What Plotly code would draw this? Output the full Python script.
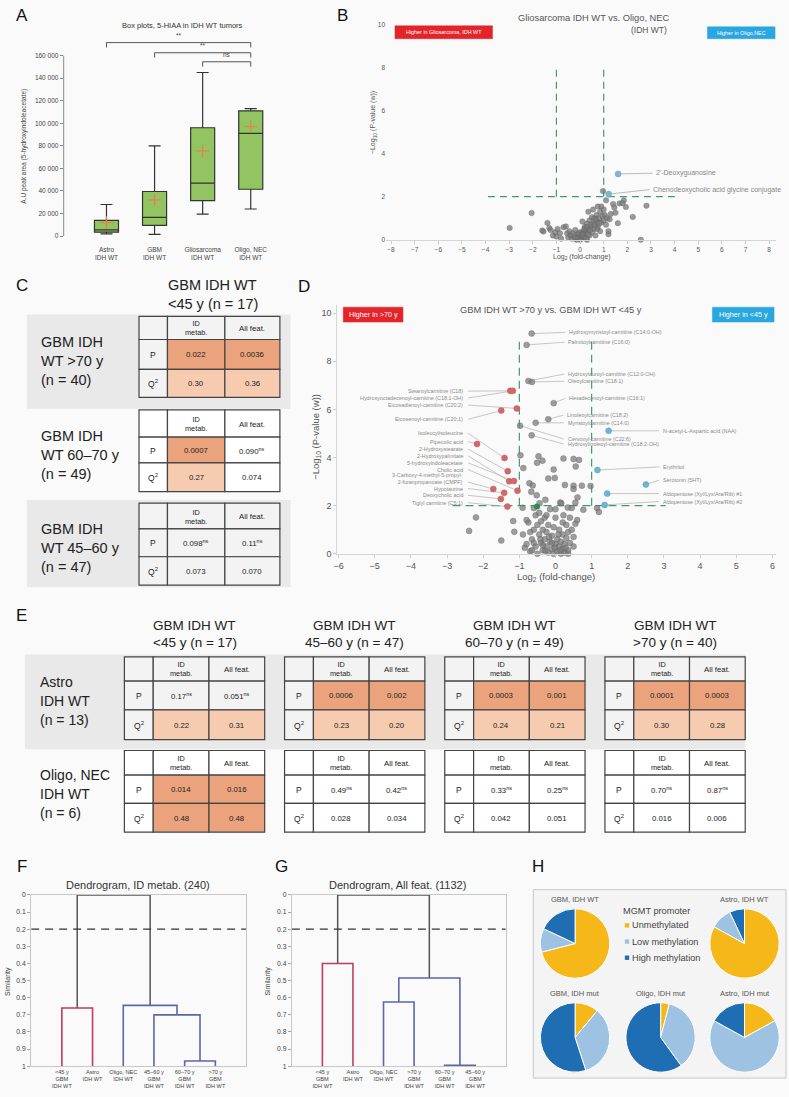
import plotly.graph_objects as go

W, H = 789, 1097
FONT = "Liberation Sans, Arial, Helvetica, sans-serif"

# ======================= DATA =======================
# Panel A: box plots of 5-HIAA
a_groups = ["Astro<br>IDH WT", "GBM<br>IDH WT", "Gliosarcoma<br>IDH WT", "Oligo, NEC<br>IDH WT"]
a_min = [2000, 1500, 19500, 24000]
a_q1 = [3500, 9500, 31500, 41500]
a_median = [5500, 16500, 47000, 91000]
a_q3 = [14000, 39500, 96000, 111000]
a_max = [28000, 80000, 145000, 113000]
a_mean = [12000, 32000, 75500, 97000]
a_yticks = [0, 20000, 40000, 60000, 80000, 100000, 120000, 140000, 160000]
a_pairs = [(0, 3), (1, 3), (2, 3)]
a_pair_labels = ["**", "**", "ns"]
a_pair_levels = [171500, 162500, 154500]

# Panel B: volcano Gliosarcoma vs Oligo
b_grey = [(-2.98, 0.55), (-2.05, 1.24), (-1.38, 0.78), (-1.6, 0.43), (-1.55, 0.38), (-1.3, 0.55),
          (-1.25, 0.45), (-1.15, 0.2), (-1.05, 0.35), (-1.0, 0.15), (-0.95, 0.5), (-0.85, 0.3),
          (-0.8, 0.05), (-0.7, 0.58), (-0.6, 0.62), (-0.55, 0.3), (-0.5, 0.1), (-0.45, 0.4),
          (-0.4, 0.2), (-0.35, 0.05), (-0.3, 0.3), (-0.25, 0.15), (-0.2, 0.45), (-0.15, 0.0),
          (-0.1, 0.25), (-0.05, 0.1), (0.0, 0.35), (0.05, 0.05), (0.1, 0.2), (0.1, 0.85),
          (0.15, 0.4), (0.2, 0.1), (0.2, 0.6), (0.25, 0.3), (0.3, 0.75), (0.3, 0.0), (0.35, 0.5),
          (0.35, 1.3), (0.4, 0.2), (0.4, 0.9), (0.45, 0.6), (0.5, 0.35), (0.5, 1.05), (0.55, 1.4),
          (0.55, 0.75), (0.6, 0.5), (0.6, 1.0), (0.65, 0.2), (0.7, 0.85), (0.7, 1.15), (0.75, 1.55),
          (0.75, 0.6), (0.8, 1.0), (0.85, 1.3), (0.85, 0.4), (0.9, 0.8), (0.9, 1.55), (0.95, 1.1),
          (0.97, 2.26), (1.0, 0.9), (1.0, 1.4), (1.05, 1.15), (1.1, 1.83), (1.1, 0.7), (1.15, 1.0),
          (1.2, 0.4), (1.2, 0.25), (1.25, 0.95), (1.3, 1.2), (1.4, 1.66), (1.45, 1.5), (1.5, 1.25),
          (1.6, 0.77), (1.67, 1.69), (1.85, 1.83), (1.94, 1.52), (1.8, 1.7), (2.23, 1.06), (2.57, 0.0),
          (2.81, 1.58), (-0.2, 0.05), (-0.1, 0.1), (0.0, 0.0), (0.05, 0.2), (0.15, 0.15), (0.25, 0.05),
          (-0.05, 0.3), (0.12, 0.3), (0.22, 0.45), (0.18, 0.5), (0.28, 0.6), (0.35, 0.25), (0.42, 0.45),
          (0.48, 0.7), (0.62, 0.7), (0.68, 0.95), (0.8, 0.75), (0.72, 0.5)]
b_hit_names = ["2′-Deoxyguanosine", "Chenodeoxycholic acid glycine conjugate"]
b_hit_x = [1.61, 1.21]
b_hit_y = [3.06, 2.12]
b_label_x = [3.12, 3.0]
b_label_y = [3.09, 2.33]

# Panel D: volcano GBM >70 y vs <45 y
d_grey = [(-0.97, 4.09), (-0.47, 4.05), (-0.51, 3.78), (-0.36, 3.87), (0.22, 3.96), (0.50, 3.94),
          (0.65, 3.90), (0.56, 3.63), (-0.89, 3.56), (-0.05, 3.50), (-0.20, 3.13), (-0.02, 3.15),
          (-0.72, 2.93), (-0.63, 2.84), (-0.67, 2.58), (0.26, 2.86), (0.50, 2.83), (0.73, 2.83),
          (0.97, 2.82), (0.50, 2.69), (-0.52, 2.43), (-0.28, 2.24), (0.61, 2.34), (0.55, 2.12),
          (0.13, 2.13), (0.16, 2.10), (-0.44, 2.10), (-0.91, 1.91), (0.34, 1.92), (0.77, 1.83),
          (1.15, 1.90), (1.20, 1.74), (-2.20, 1.51), (-1.17, 1.36), (-2.39, 0.95), (-1.14, 0.91),
          (-1.50, 0.55), (-0.9, 0.8), (-0.85, 0.25), (-0.8, 0.4), (-0.75, 1.3), (-0.7, 0.1),
          (-0.65, 0.6), (-0.6, 1.0), (-0.55, 1.6), (-0.55, 0.3), (-0.5, 1.2), (-0.5, 0.0),
          (-0.45, 0.8), (-0.45, 1.7), (-0.4, 0.45), (-0.4, 1.35), (-0.35, 0.15), (-0.35, 1.0),
          (-0.3, 0.6), (-0.3, 1.5), (-0.25, 0.3), (-0.25, 0.9), (-0.2, 0.05), (-0.2, 1.2),
          (-0.15, 0.5), (-0.15, 1.85), (-0.1, 0.2), (-0.1, 0.75), (-0.05, 0.0), (-0.05, 1.1),
          (0.0, 0.4), (0.0, 1.5), (0.05, 0.1), (0.05, 0.6), (0.1, 0.3), (0.1, 1.0), (0.15, 0.0),
          (0.15, 0.5), (0.2, 0.2), (0.2, 0.8), (0.2, 1.3), (0.25, 0.05), (0.25, 0.4), (0.3, 0.65),
          (0.3, 1.2), (0.35, 0.15), (0.35, 0.9), (0.4, 1.5), (0.4, 0.45), (0.45, 1.0), (0.5, 0.3),
          (0.5, 0.7), (0.55, 1.25), (0.6, 1.4), (-0.6, 0.45), (-0.7, 0.9), (-0.8, 1.4), (-0.35, 0.35),
          (-0.1, 0.45), (0.08, 0.8), (-0.28, 0.12), (0.12, 0.15), (-0.18, 0.7), (0.28, 0.25),
          (-0.02, 0.25), (-0.42, 0.6), (0.22, 1.6), (-0.6, 1.9), (0.45, 1.9), (0.0, 1.85),
          (-0.25, 1.6), (0.35, 0.0), (-0.65, 0.15)]
d_green = [(-0.51, 1.96)]
d_left_names = ["Stearoylcarnitine (C18)", "Hydroxyoctadecenoyl-carnitine (C18:1-OH)",
                "Eicosadienoyl-carnitine (C20:2)", "Eicosenoyl-carnitine (C20:1)", "Isoleucylisoleucine",
                "Pipecolic acid", "2-Hydroxystearate", "2-Hydroxypalmitate", "5-hydroxyindoleacetate",
                "Cholic acid", "3-Carboxy-4-methyl-5-propyl-<br>2-furanpropanoate (CMPF)", "Hypotaurine",
                "Deoxycholic acid", "Tiglyl carnitine (C5:1)"]
d_left_x = [-1.25, -1.18, -1.07, -1.50, -1.41, -2.17, -1.32, -1.28, -1.15, -1.05, -1.72, -1.42, -1.51, -1.33]
d_left_y = [6.77, 6.77, 6.04, 5.95, 3.98, 4.56, 3.43, 3.01, 3.02, 2.62, 2.69, 2.53, 2.28, 1.96]
d_left_label_y = [6.76, 6.47, 6.18, 5.59, 5.01, 4.66, 4.35, 4.07, 3.78, 3.50, 3.12, 2.71, 2.43, 2.12]
d_right_names = ["Hydroxymyristoyl-carnitine (C14:0-OH)", "Palmitoylcarnitine (C16:0)",
                 "Hydroxylauroyl-carnitine (C12:0-OH)", "Oleoylcarnitine (C18:1)",
                 "Hexadecenoyl-carnitine (C16:1)", "Linoleoylcarnitine (C18:2)",
                 "Myristoylcarnitine (C14:0)", "Cervonyl-carnitine (C22:6)",
                 "Hydroxylinoleoyl-carnitine (C18:2-OH)"]
d_right_x = [-0.66, -0.80, -0.75, -0.65, -0.05, -0.20, -0.55, -0.98, -0.66]
d_right_y = [9.15, 8.68, 7.18, 7.14, 6.26, 5.59, 5.44, 5.32, 4.92]
d_right_label_x = [0.32, 0.30, 0.30, 0.30, 0.32, 0.27, 0.28, 0.28, 0.28]
d_right_label_y = [9.2, 8.79, 7.47, 7.17, 6.46, 5.76, 5.44, 4.77, 4.56]
d_blue_names = ["N-acetyl-L-Aspartic acid (NAA)", "Erythritol", "Serotonin (5HT)",
                "Aldopentose (Xyl/Lyx/Ara/Rib) #1", "Aldopentose (Xyl/Lyx/Ara/Rib) #2"]
d_blue_x = [1.47, 1.16, 2.50, 1.43, 1.36]
d_blue_y = [5.11, 3.48, 2.88, 2.50, 2.03]
d_blue_label_x = [2.91, 2.93, 2.91, 2.91, 2.91]
d_blue_label_y = [5.11, 3.61, 3.05, 2.50, 2.17]

# Panel C: model statistics vs GBM IDH WT <45 y
c_title = ["GBM IDH WT", "&lt;45 y (n = 17)"]
c_rows = [["GBM IDH", "WT &gt;70 y", "(n = 40)"],
          ["GBM IDH", "WT 60–70 y", "(n = 49)"],
          ["GBM IDH", "WT 45–60 y", "(n = 47)"]]
c_p = [["0.022", "0.0036"], ["0.0007", "0.090"], ["0.098", "0.11"]]
c_q = [["0.30", "0.36"], ["0.27", "0.074"], ["0.073", "0.070"]]

# Panel E
e_cols = ["&lt;45 y (n = 17)", "45–60 y (n = 47)", "60–70 y (n = 49)", "&gt;70 y (n = 40)"]
e_rows = [["Astro", "IDH WT", "(n = 13)"], ["Oligo, NEC", "IDH WT", "(n = 6)"]]
e_p = [[["0.17", "0.051"], ["0.0006", "0.002"], ["0.0003", "0.001"], ["0.0001", "0.0003"]],
       [["0.014", "0.016"], ["0.49", "0.42"], ["0.33", "0.25"], ["0.70", "0.87"]]]
e_q = [[["0.22", "0.31"], ["0.23", "0.20"], ["0.24", "0.21"], ["0.30", "0.28"]],
       [["0.48", "0.48"], ["0.028", "0.034"], ["0.042", "0.051"], ["0.016", "0.006"]]]
table_header = ["", "ID<br>metab.", "All feat."]

# Panels F, G: dendrograms (merges: left node, right node, similarity, cluster)
f_leaves = ["&lt;45 y<br>GBM<br>IDH WT", "Astro<br>IDH WT", "Oligo, NEC<br>IDH WT",
            "45–60 y<br>GBM<br>IDH WT", "60–70 y<br>GBM<br>IDH WT", "&gt;70 y<br>GBM<br>IDH WT"]
f_merges = [(0, 1, 0.66, "red"), (4, 5, 0.97, "blue"), (3, 7, 0.70, "blue"),
            (2, 8, 0.645, "blue"), (6, 9, 0.0, "top")]
g_leaves = ["&lt;45 y<br>GBM<br>IDH WT", "Astro<br>IDH WT", "Oligo, NEC<br>IDH WT",
            "&gt;70 y<br>GBM<br>IDH WT", "60–70 y<br>GBM<br>IDH WT", "45–60 y<br>GBM<br>IDH WT"]
g_merges = [(0, 1, 0.40, "red"), (4, 5, 0.995, "blue"), (2, 3, 0.625, "blue"),
            (8, 7, 0.485, "blue"), (6, 9, 0.0, "top")]
dendro_cut = 0.2
sim_ticks = [0, 0.1, 0.2, 0.3, 0.4, 0.5, 0.6, 0.7, 0.8, 0.9, 1]

# Panel H: MGMT promoter pies
mgmt_labels = ["Unmethylated", "Low methylation", "High methylation"]
h_titles = ["GBM, IDH WT", "Astro, IDH WT", "GBM, IDH mut", "Oligo, IDH mut", "Astro, IDH mut"]
h_values = [[71, 11, 18], [83, 10, 7], [11, 34, 55], [4, 36, 60], [17, 66, 17]]

# ======================= HELPERS =======================
def fx(p):
    return p / W


def fy(p):
    return 1 - p / H


def lin(pa, va, pb, vb, p):
    return va + (p - pa) * (vb - va) / (pb - pa)


def rng(pa, va, pb, vb, lo, hi):
    return [lin(pa, va, pb, vb, lo), lin(pa, va, pb, vb, hi)]


shapes, ann = [], []


def text(x, y, s, size, color="#333", xanchor="center", yanchor="middle", xref="paper",
         yref="paper", angle=0, align="center"):
    if xref == "paper":
        x = fx(x)
    if yref == "paper":
        y = fy(y)
    ann.append(dict(x=x, y=y, text=s, xref=xref, yref=yref, showarrow=False, xanchor=xanchor,
                    yanchor=yanchor, textangle=angle, align=align,
                    font=dict(size=size, color=color, family=FONT)))


def rect(x0, y0, x1, y1, fill, line="#444", lw=1.2, layer="above"):
    shapes.append(dict(type="rect", xref="paper", yref="paper", x0=fx(x0), x1=fx(x1),
                       y0=fy(y1), y1=fy(y0), fillcolor=fill, layer=layer,
                       line=dict(color=line, width=lw)))


fig = go.Figure()

# ======================= PANEL A =======================
fig.add_trace(go.Box(x=[0, 1, 2, 3], q1=a_q1, median=a_median, q3=a_q3, lowerfence=a_min,
                     upperfence=a_max, width=0.5, fillcolor="#93c462",
                     line=dict(color="#333", width=1.2), boxpoints=False,
                     xaxis="x", yaxis="y", hoverinfo="skip"))
fig.add_trace(go.Scatter(x=[0, 1, 2, 3], y=a_mean, mode="markers", xaxis="x", yaxis="y",
                         marker=dict(symbol="cross-thin", size=9, line=dict(color="#e8804a", width=1.2)),
                         cliponaxis=False))
shapes.append(dict(type="line", xref="paper", yref="y", x0=fx(60), x1=fx(60), y0=0, y1=160000,
                   line=dict(color="#888", width=1)))
for (i, j), lab, lev in zip(a_pairs, a_pair_labels, a_pair_levels):
    d = 4300
    shapes.append(dict(type="path", xref="x", yref="y",
                       path=f"M {i},{lev - d} L {i},{lev} L {j},{lev} L {j},{lev - d}",
                       line=dict(color="#555", width=1)))
    text((i + j) / 2, lev + 1200, lab, 6.5, "#444", yanchor="bottom", xref="x", yref="y")
text(179, 22, "Box plots, 5-HIAA in IDH WT tumors", 7.5, "#333")
text(20, 143, "A.U peak area (5-hydroxyindoleacetate)", 6.5, "#444", angle=-90)

# ======================= PANEL B =======================
fig.add_trace(go.Scatter(x=[-1, -1, None, 1, 1, None, -3.9, 4.1], y=[2, 8.1, None, 2, 8.1, None, 2, 2],
                         mode="lines", xaxis="x2", yaxis="y2",
                         line=dict(color="#3a9e6e", width=1.2, dash="7px,5px")))
bx, by = [], []
for px_, py_, lx, ly in zip(b_hit_x, b_hit_y, b_label_x, b_label_y):
    bx += [px_, lx - 0.05, None]
    by += [py_, ly, None]
fig.add_trace(go.Scatter(x=bx, y=by, mode="lines", xaxis="x2", yaxis="y2",
                         line=dict(color="#aaa", width=0.8)))
fig.add_trace(go.Scatter(x=[p[0] for p in b_grey], y=[p[1] for p in b_grey], mode="markers",
                         xaxis="x2", yaxis="y2", cliponaxis=False,
                         marker=dict(size=5.5, color="rgba(120,120,120,0.75)",
                                     line=dict(color="rgba(90,90,90,0.6)", width=0.5))))
fig.add_trace(go.Scatter(x=b_hit_x, y=b_hit_y, mode="markers", xaxis="x2", yaxis="y2",
                         marker=dict(size=6, color="#7fb6cc", line=dict(color="#6aa0b8", width=0.5))))
for n, lx, ly in zip(b_hit_names, b_label_x, b_label_y):
    text(lx, ly, n, 7, "#888", xanchor="left", xref="x2", yref="y2")
text(593, 14, "Gliosarcoma IDH WT vs. Oligo, NEC", 9.3, "#555")
text(668, 26, "(IDH WT)", 8.5, "#555", xanchor="right")
rect(393, 22, 491, 35, "#e3242b", line="#e3242b", lw=0.5)
text(442, 28.5, "Higher in Gliosarcoma, IDH WT", 5.4, "white")
rect(707, 23, 775, 35, "#2aa7df", line="#2aa7df", lw=0.5)
text(741, 29, "Higher in Oligo,NEC", 5.4, "white")
text(580.7, 255.5, "Log<sub>2</sub> (fold-change)", 7, "#555")
text(371, 120, "−Log<sub>10</sub> (P-value (w))", 7, "#555", angle=-90)

# ======================= PANEL D =======================
fig.add_trace(go.Scatter(x=[-1, -1, None, 1, 1, None, -2.85, 3.05], y=[2, 9.0, None, 2, 9.0, None, 2, 2],
                         mode="lines", xaxis="x3", yaxis="y3",
                         line=dict(color="#3a9e6e", width=1.2, dash="8px,5px")))
cx, cy = [], []
for n, px_, py_, ly in zip(d_left_names, d_left_x, d_left_y, d_left_label_y):
    yy = ly - 0.14 if "<br>" in n else ly
    cx += [-2.42, px_, None]
    cy += [yy, py_, None]
for px_, py_, lx, ly in zip(d_right_x + d_blue_x, d_right_y + d_blue_y,
                            d_right_label_x + d_blue_label_x, d_right_label_y + d_blue_label_y):
    cx += [px_, lx - 0.05, None]
    cy += [py_, ly, None]
fig.add_trace(go.Scatter(x=cx, y=cy, mode="lines", xaxis="x3", yaxis="y3",
                         line=dict(color="#b0b0b0", width=0.7)))
fig.add_trace(go.Scatter(x=[p[0] for p in d_grey] + d_right_x, y=[p[1] for p in d_grey] + d_right_y,
                         mode="markers", xaxis="x3", yaxis="y3", cliponaxis=False,
                         marker=dict(size=6, color="rgba(120,120,120,0.72)",
                                     line=dict(color="rgba(90,90,90,0.6)", width=0.5))))
fig.add_trace(go.Scatter(x=d_left_x, y=d_left_y, mode="markers", xaxis="x3", yaxis="y3",
                         marker=dict(size=6, color="#d06a6a", line=dict(color="#c05a5a", width=0.5))))
fig.add_trace(go.Scatter(x=d_blue_x, y=d_blue_y, mode="markers", xaxis="x3", yaxis="y3",
                         marker=dict(size=6, color="#6fb3d6", line=dict(color="#5aa0c4", width=0.5))))
fig.add_trace(go.Scatter(x=[p[0] for p in d_green], y=[p[1] for p in d_green], mode="markers",
                         xaxis="x3", yaxis="y3", marker=dict(size=6, color="#2e8b57")))
for n, ly in zip(d_left_names, d_left_label_y):
    text(-2.49, ly, n, 5.4, "#8a8a8a", xanchor="right", xref="x3", yref="y3", align="right")
for n, lx, ly in zip(d_right_names + d_blue_names, d_right_label_x + d_blue_label_x,
                     d_right_label_y + d_blue_label_y):
    text(lx, ly, n, 5.4, "#8a8a8a", xanchor="left", xref="x3", yref="y3")
text(549.7, 309, "GBM IDH WT &gt;70 y vs. GBM IDH WT &lt;45 y", 9.3, "#555")
rect(341, 305.7, 401, 320.7, "#e3242b", line="#e3242b", lw=0.5)
text(371, 313.2, "Higher in &gt;70 y", 7.2, "white")
rect(712, 305.7, 774, 320.7, "#2aa7df", line="#2aa7df", lw=0.5)
text(743, 313.2, "Higher in &lt;45 y", 7.2, "white")
text(555, 578, "Log<sub>2</sub> (fold-change)", 9.5, "#555")
text(314, 436, "−Log<sub>10</sub> (P-value (w))", 9.5, "#555", angle=-90)

# ======================= TABLES (C, E) =======================
DARK, LIGHT = "#eaa37d", "#f6cbb0"


def p_fill(s):
    return DARK if float(s) < 0.05 else None


def q_fill(s):
    v = float(s)
    return DARK if v >= 0.4 else (LIGHT if v >= 0.2 else None)


def fmt_p(s):
    return s + "<sup>ns</sup>" if float(s) >= 0.05 else s


def draw_table(x0, widths, rows_y, pv, qv, banded):
    xs = [x0]
    for w in widths:
        xs.append(xs[-1] + w)
    base = "#f3f3f3" if banded else "#ffffff"
    fills = [[base, base, base],
             [base, p_fill(pv[0]) or base, p_fill(pv[1]) or base],
             [base, q_fill(qv[0]) or base, q_fill(qv[1]) or base]]
    texts = [table_header,
             ["P", fmt_p(pv[0]), fmt_p(pv[1])],
             ["Q<sup>2</sup>", qv[0], qv[1]]]
    for r in range(3):
        for c in range(3):
            rect(xs[c], rows_y[r], xs[c + 1], rows_y[r + 1], fills[r][c])
            if texts[r][c]:
                size = 8.5 if c == 0 else (7.3 if r == 0 and c == 1 else 7.8)
                text((xs[c] + xs[c + 1]) / 2, (rows_y[r] + rows_y[r + 1]) / 2 + 0.5,
                     texts[r][c], size, "#222")


# Panel C
c_table_rows = [[315, 338.3, 368.3, 396.7], [409.3, 436.7, 462.7, 491.7], [503.3, 529.3, 557.3, 586]]
c_bands = [True, False, True]
rect(23, 313, 288, 408, "#e9e9e9", line="#e9e9e9", lw=0, layer="below")
rect(23, 500, 288, 588, "#e9e9e9", line="#e9e9e9", lw=0, layer="below")
text(210, 283, c_title[0], 14.5, "#222")
text(210, 302, c_title[1], 14.5, "#222")
for k in range(3):
    ry = c_table_rows[k]
    draw_table(135.7, [28.6, 57.7, 55.3], ry, c_p[k], c_q[k], c_bands[k])
    mid = (ry[0] + ry[3]) / 2
    for line_txt, off in zip(c_rows[k], [-15, 4, 23]):
        text(35, mid + off, line_txt, 14.5, "#222", xanchor="left")

# Panel E
e_x0 = [121, 282, 443, 604]
e_table_rows = [[658.3, 682.7, 711.7, 741.7], [752.7, 777.5, 806, 835]]
rect(21, 656, 745, 751.5, "#e9e9e9", line="#e9e9e9", lw=0, layer="below")
for j in range(4):
    cxm = e_x0[j] + 70.5
    text(cxm, 627, "GBM IDH WT", 13.5, "#222")
    text(cxm, 644, e_cols[j], 13.5, "#222")
for i in range(2):
    ry = e_table_rows[i]
    for j in range(4):
        draw_table(e_x0[j], [29, 56, 56], ry, e_p[i][j], e_q[i][j], i == 0)
    mid = (ry[0] + ry[3]) / 2
    for line_txt, off in zip(e_rows[i], [-16, 3, 22]):
        text(34, mid + off, line_txt, 14, "#222", xanchor="left")

# ======================= DENDROGRAMS (F, G) =======================
DCOL = {"red": "#c23b5c", "blue": "#5b67a8", "top": "#555555"}


def dendro(merges, xa, ya):
    pos = {i: (float(i), 1.0) for i in range(6)}
    segs = {"red": ([], []), "blue": ([], []), "top": ([], [])}
    nid = 6
    for l, r, h, grp in merges:
        xl, hl = pos[l]
        xr, hr = pos[r]
        sx, sy = segs[grp]
        sx += [xl, xl, xr, xr, None]
        sy += [hl, h, h, hr, None]
        pos[nid] = ((xl + xr) / 2, h)
        nid += 1
    for grp in ["top", "red", "blue"]:
        sx, sy = segs[grp]
        fig.add_trace(go.Scatter(x=sx, y=sy, mode="lines", xaxis=xa, yaxis=ya,
                                 line=dict(color=DCOL[grp], width=1.6 if grp != "top" else 1.5)))
    fig.add_trace(go.Scatter(x=[-1, 6], y=[dendro_cut, dendro_cut], mode="lines", xaxis=xa, yaxis=ya,
                             line=dict(color="#333", width=1.2, dash="8px,6px")))


dendro(f_merges, "x4", "y4")
dendro(g_merges, "x5", "y5")
text(135, 888, "Dendrogram, ID metab. (240)", 11, "#333")
text(396, 888, "Dendrogram, All feat. (1132)", 11, "#333")
text(4, 985, "Similarity", 7, "#444", angle=-90)
text(265, 985, "Similarity", 7, "#444", angle=-90)

# ======================= PIES (H) =======================
MGMT_COL = ["#f5b818", "#9ec3e2", "#1f6db3"]
h_centers = [(574, 947.3), (744.3, 947.3), (574, 1042), (660, 1042), (744.3, 1042)]
R = 35
rect(532, 893, 786, 1083, "#f4f4f4", line="#c8c8c8", lw=1, layer="below")
for t, vals, (pcx, pcy) in zip(h_titles, h_values, h_centers):
    fig.add_trace(go.Pie(values=vals, labels=mgmt_labels, sort=False, direction="clockwise",
                         rotation=0, textinfo="none", hoverinfo="label+percent",
                         marker=dict(colors=MGMT_COL, line=dict(color="white", width=1)),
                         domain=dict(x=[fx(pcx - R), fx(pcx + R)], y=[fy(pcy + R), fy(pcy - R)])))
    text(pcx, pcy - R - 9.5, t, 7.5, "#555")
text(620.5, 914, "MGMT promoter", 9.2, "#444", xanchor="left")
for k, (lab, col) in enumerate(zip(mgmt_labels, MGMT_COL)):
    yy = 929 + k * 16.3
    rect(624, yy - 2.2, 628.4, yy + 2.2, col, line=col, lw=0)
    text(629.5, yy, lab, 9.2, "#444", xanchor="left")

# ======================= PANEL LETTERS =======================
for L, lx, ly in [("A", 18, 12), ("B", 340, 12), ("C", 18, 284), ("D", 302, 285),
                  ("E", 18, 617), ("F", 18, 870), ("G", 279, 870), ("H", 537, 870)]:
    text(lx, ly, L, 17, "#111")

# ======================= LAYOUT =======================
tick_small = dict(family=FONT, color="#555")
base_ax = dict(showgrid=False, zeroline=False)
layout = dict(
    width=W, height=H, margin=dict(l=0, r=0, t=0, b=0), autosize=False, showlegend=False,
    paper_bgcolor="#fafafa", plot_bgcolor="rgba(0,0,0,0)", font=dict(family=FONT),
    shapes=shapes, annotations=ann,
    xaxis=dict(base_ax, domain=[fx(60), fx(282)], range=rng(103, 0, 248, 3, 60, 282), anchor="y",
               tickvals=[0, 1, 2, 3], ticktext=a_groups, ticks="", showline=False,
               tickfont=dict(tick_small, size=6.5, color="#444")),
    yaxis=dict(base_ax, domain=[fy(242), fy(30)], range=rng(234, 0, 52, 160000, 242, 30), anchor="x",
               tickvals=a_yticks, ticktext=[f"{v:,}".replace(",", " ") for v in a_yticks],
               ticks="outside", ticklen=3, tickcolor="#888", showline=False,
               tickfont=dict(tick_small, size=6.5, color="#444")),
    xaxis2=dict(base_ax, domain=[fx(384), fx(776)], range=rng(389, -8, 769, 8, 384, 776), anchor="y2",
                tickvals=list(range(-8, 9)), ticks="outside", ticklen=3, tickcolor="#ccc",
                showline=True, linecolor="#d5d5d5", tickfont=dict(tick_small, size=6.5)),
    yaxis2=dict(base_ax, domain=[fy(237.7), fy(18)], range=rng(237.7, 0, 20.7, 10, 237.7, 18),
                anchor="x2", tickvals=[0, 2, 4, 6, 8, 10], ticks="", showline=False,
                tickfont=dict(tick_small, size=6.5)),
    xaxis3=dict(base_ax, domain=[fx(335), fx(776)], range=rng(336.3, -6, 772.3, 6, 335, 776), anchor="y3",
                tickvals=list(range(-6, 7)), ticks="outside", ticklen=3, tickcolor="#ccc",
                showline=True, linecolor="#d5d5d5", tickfont=dict(tick_small, size=9)),
    yaxis3=dict(base_ax, domain=[fy(554.3), fy(303)], range=rng(554.3, 0, 311.7, 10, 554.3, 303),
                anchor="x3", tickvals=[0, 2, 4, 6, 8, 10], ticks="outside", ticklen=3, tickcolor="#ccc",
                showline=True, linecolor="#d5d5d5", tickfont=dict(tick_small, size=9)),
    xaxis4=dict(base_ax, domain=[fx(27.3), fx(243.3)], range=[-1, 6], anchor="y4",
                tickvals=list(range(6)), ticktext=f_leaves, ticks="", showline=True, mirror=True,
                linecolor="#c8c8c8", tickfont=dict(tick_small, size=5.6, color="#444")),
    yaxis4=dict(base_ax, domain=[fy(1071), fy(898.3)], range=[1, 0], anchor="x4",
                tickvals=sim_ticks, ticktext=[f"{v:g}" for v in sim_ticks], ticks="outside", ticklen=3,
                tickcolor="#aaa", showline=True, mirror=True, linecolor="#c8c8c8",
                tickfont=dict(tick_small, size=6.8, color="#444")),
    xaxis5=dict(base_ax, domain=[fx(289.3), fx(504.3)], range=[-1, 6], anchor="y5",
                tickvals=list(range(6)), ticktext=g_leaves, ticks="", showline=True, mirror=True,
                linecolor="#c8c8c8", tickfont=dict(tick_small, size=5.6, color="#444")),
    yaxis5=dict(base_ax, domain=[fy(1071), fy(898.3)], range=[1, 0], anchor="x5",
                tickvals=sim_ticks, ticktext=[f"{v:g}" for v in sim_ticks], ticks="outside", ticklen=3,
                tickcolor="#aaa", showline=True, mirror=True, linecolor="#c8c8c8",
                tickfont=dict(tick_small, size=6.8, color="#444")),
)
fig.update_layout(**layout)
fig.write_html("out.html", config={"displayModeBar": False},
               post_script="document.body.style.margin='0';document.body.style.overflow='hidden';")
